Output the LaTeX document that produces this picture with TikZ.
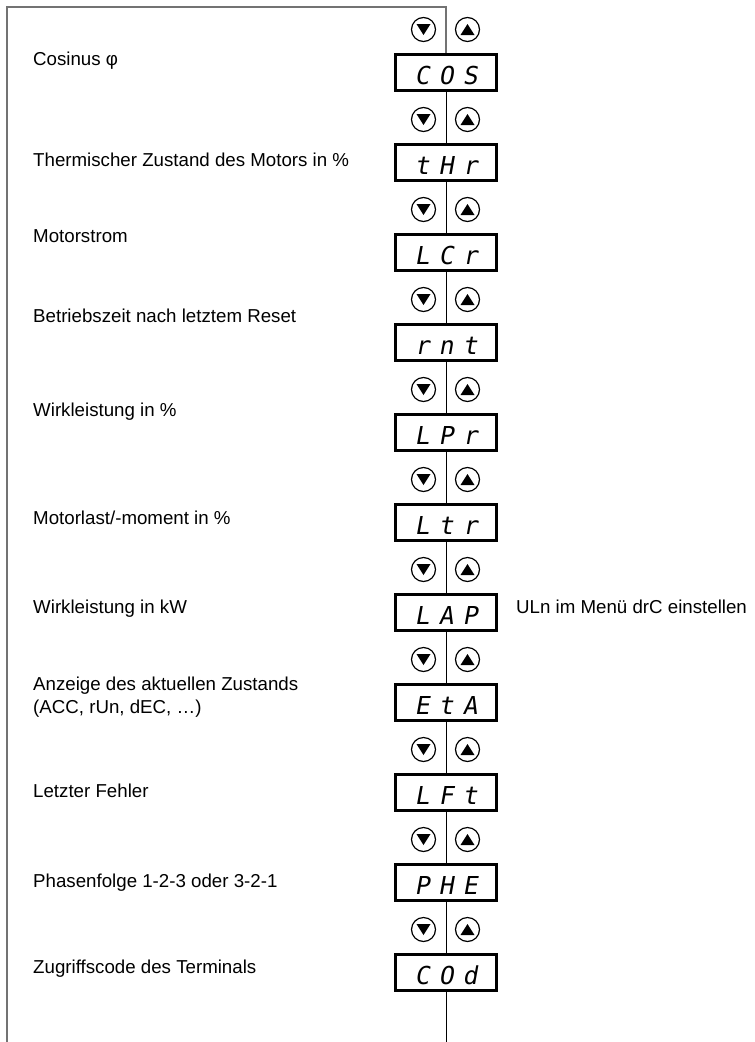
\documentclass[tikz,border=0pt]{standalone}
\usepackage{fontspec}
\setmainfont{Liberation Sans}
\newfontfamily\lcdfont[FakeSlant=0.18, LetterSpace=37]{DejaVu Sans Mono}

\begin{document}
\begin{tikzpicture}[x=1pt, y=-1pt,
  display/.style={draw=black, line width=2.4pt, minimum width=101pt, minimum height=36pt,
    inner sep=0pt, text height=23pt, text depth=0pt,
    font=\lcdfont\fontsize{24.7}{24.7}\selectfont},
  key/.style={circle, draw=black, line width=1.2pt, minimum size=24pt, inner sep=0pt},
  keydown/.style={key, path picture={\fill ([shift={(-7,-5.5)}]path picture bounding box.center) -- ++(14,0) -- ++(-7,11) -- cycle;}},
  keyup/.style={key, path picture={\fill ([shift={(0,-5.5)}]path picture bounding box.center) -- ++(7,11) -- ++(-14,0) -- cycle;}},
  lbl/.style={anchor=base west, inner sep=0pt, align=left,
    font=\fontsize{18.7}{23}\selectfont},
  link/.style={draw=black, line width=1pt},
  frame/.style={draw=black!55, line width=1.5pt}]
  \useasboundingbox (0,0) rectangle (755,1042);

  % displays
  \node[display] (cos) at (446,72.5) {COS};
  \node[display] (thr) at (446,162.5) {tHr};
  \node[display] (lcr) at (446,252.5) {LCr};
  \node[display] (rnt) at (446,342.5) {rnt};
  \node[display] (lpr) at (446,432.5) {LPr};
  \node[display] (ltr) at (446,522.5) {Ltr};
  \node[display] (lap) at (446,612.5) {LAP};
  \node[display] (eta) at (446,702.5) {EtA};
  \node[display] (lft) at (446,792.5) {LFt};
  \node[display] (phe) at (446,882.5) {PHE};
  \node[display] (cod) at (446,972.5) {COd};

  % keys
  \node[keydown] (cosdn) at (423.5,29.5) {};
  \node[keyup] (cosup) at (467.5,29.5) {};
  \node[keydown] (thrdn) at (423.5,119.5) {};
  \node[keyup] (thrup) at (467.5,119.5) {};
  \node[keydown] (lcrdn) at (423.5,209.5) {};
  \node[keyup] (lcrup) at (467.5,209.5) {};
  \node[keydown] (rntdn) at (423.5,299.5) {};
  \node[keyup] (rntup) at (467.5,299.5) {};
  \node[keydown] (lprdn) at (423.5,389.5) {};
  \node[keyup] (lprup) at (467.5,389.5) {};
  \node[keydown] (ltrdn) at (423.5,479.5) {};
  \node[keyup] (ltrup) at (467.5,479.5) {};
  \node[keydown] (lapdn) at (423.5,569.5) {};
  \node[keyup] (lapup) at (467.5,569.5) {};
  \node[keydown] (etadn) at (423.5,659.5) {};
  \node[keyup] (etaup) at (467.5,659.5) {};
  \node[keydown] (lftdn) at (423.5,749.5) {};
  \node[keyup] (lftup) at (467.5,749.5) {};
  \node[keydown] (phedn) at (423.5,839.5) {};
  \node[keyup] (pheup) at (467.5,839.5) {};
  \node[keydown] (coddn) at (423.5,929.5) {};
  \node[keyup] (codup) at (467.5,929.5) {};

  % labels
  \node[lbl] (tcos) at (33,65) {Cosinus φ};
  \node[lbl] (tthr) at (33,166.5) {Thermischer Zustand des Motors in \%};
  \node[lbl] (tlcr) at (33,242) {Motorstrom};
  \node[lbl] (trnt) at (33,322) {Betriebszeit nach letztem Reset};
  \node[lbl] (tlpr) at (33,416) {Wirkleistung in \%};
  \node[lbl] (tltr) at (33,524) {Motorlast/-moment in \%};
  \node[lbl] (tlap) at (33,613) {Wirkleistung in kW};
  \node[lbl] (tuln) at (516,613) {ULn im Menü drC einstellen};
  \node[lbl] (teta) at (33,713) {Anzeige des aktuellen Zustands\\(ACC, rUn, dEC, …)};
  \node[lbl] (tlft) at (33,797) {Letzter Fehler};
  \node[lbl] (tphe) at (33,887) {Phasenfolge 1-2-3 oder 3-2-1};
  \node[lbl] (tcod) at (33,973) {Zugriffscode des Terminals};

  % frame and chain
  \coordinate (fbl) at (7,1042);
  \coordinate (ftl) at (7,7);
  \coordinate (ftr) at (446,7);
  \coordinate (chainend) at (446,1042);
  \draw[frame] (fbl) -- (ftl) -- (ftr) -- (cos);
  \draw[link] (cos) -- (thr);
  \draw[link] (thr) -- (lcr);
  \draw[link] (lcr) -- (rnt);
  \draw[link] (rnt) -- (lpr);
  \draw[link] (lpr) -- (ltr);
  \draw[link] (ltr) -- (lap);
  \draw[link] (lap) -- (eta);
  \draw[link] (eta) -- (lft);
  \draw[link] (lft) -- (phe);
  \draw[link] (phe) -- (cod);
  \draw[link] (cod) -- (chainend);
\end{tikzpicture}
\end{document}
